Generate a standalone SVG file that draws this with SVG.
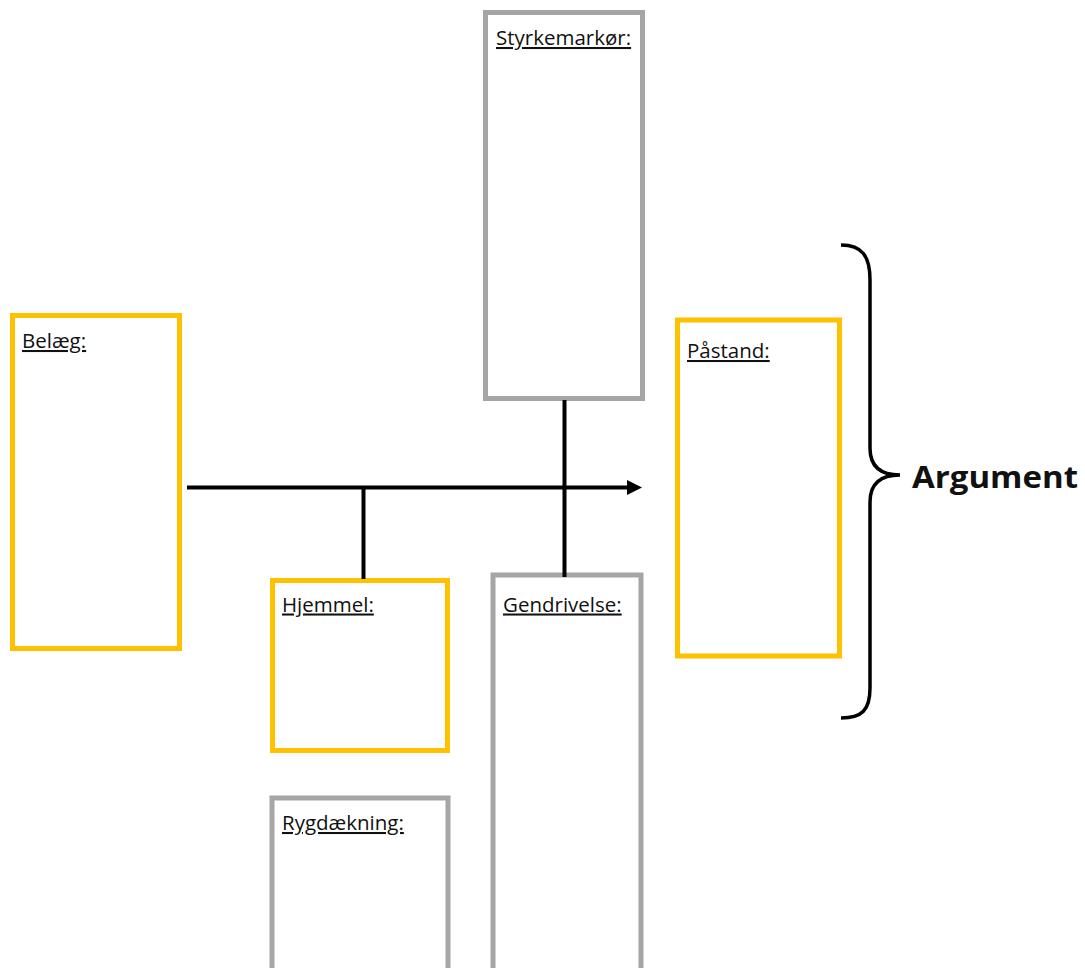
<svg xmlns="http://www.w3.org/2000/svg" width="1085" height="968" viewBox="0 0 1085 968">
<style>
.y{fill:#fff;stroke:#FFC000;stroke-width:5}
.g{fill:#fff;stroke:#A5A5A5;stroke-width:5}
.lbl{font-family:"Open Sans","Liberation Sans",sans-serif;font-size:20.5px;fill:#111;text-decoration:underline}
.c{stroke:#000;stroke-width:4;fill:none}
</style>
<defs>
<marker id="ah" markerWidth="16" markerHeight="16" refX="0" refY="7.5" orient="auto" markerUnits="userSpaceOnUse">
<path d="M0,0 L15,7.5 L0,15 Z" fill="#000"/>
</marker>
</defs>
<rect width="1085" height="968" fill="#fff"/>
<g id="belaeg"><rect class="y" x="12.5" y="315.5" width="167" height="333"/><text class="lbl" x="22" y="348">Belæg:</text></g>
<g id="styrkemarkoer"><rect class="g" x="485.5" y="12.5" width="157" height="386"/><text class="lbl" x="496" y="45">Styrkemarkør:</text></g>
<g id="hjemmel"><rect class="y" x="272.5" y="580.5" width="175" height="170"/><text class="lbl" x="282" y="611.5">Hjemmel:</text></g>
<g id="gendrivelse"><rect class="g" x="493" y="575" width="148" height="420"/><text class="lbl" x="503" y="611.5">Gendrivelse:</text></g>
<g id="rygdaekning"><rect class="g" x="272" y="798" width="176" height="200"/><text class="lbl" x="282" y="830">Rygdækning:</text></g>
<g id="paastand"><rect class="y" x="677.5" y="320" width="162" height="336"/><text class="lbl" x="687" y="358">Påstand:</text></g>
<g id="connectors">
<line class="c" x1="187" y1="487.5" x2="627" y2="487.5" marker-end="url(#ah)"/>
<line class="c" x1="363.5" y1="487.5" x2="363.5" y2="579"/>
<line class="c" x1="564.5" y1="400" x2="564.5" y2="577"/>
</g>
<g id="argument">
<path d="M841,245 C862,245 870,256 870,280 L870,448 C870,466 880,475 900,475 C880,475 870,484 870,502 L870,688 C870,710 862,718 841,718" fill="none" stroke="#000" stroke-width="3.5"/>
<text x="912" y="488" font-family="'Open Sans','Liberation Sans',sans-serif" font-weight="bold" font-size="30" fill="#111" textLength="166" lengthAdjust="spacingAndGlyphs">Argument</text>
</g>
</svg>
